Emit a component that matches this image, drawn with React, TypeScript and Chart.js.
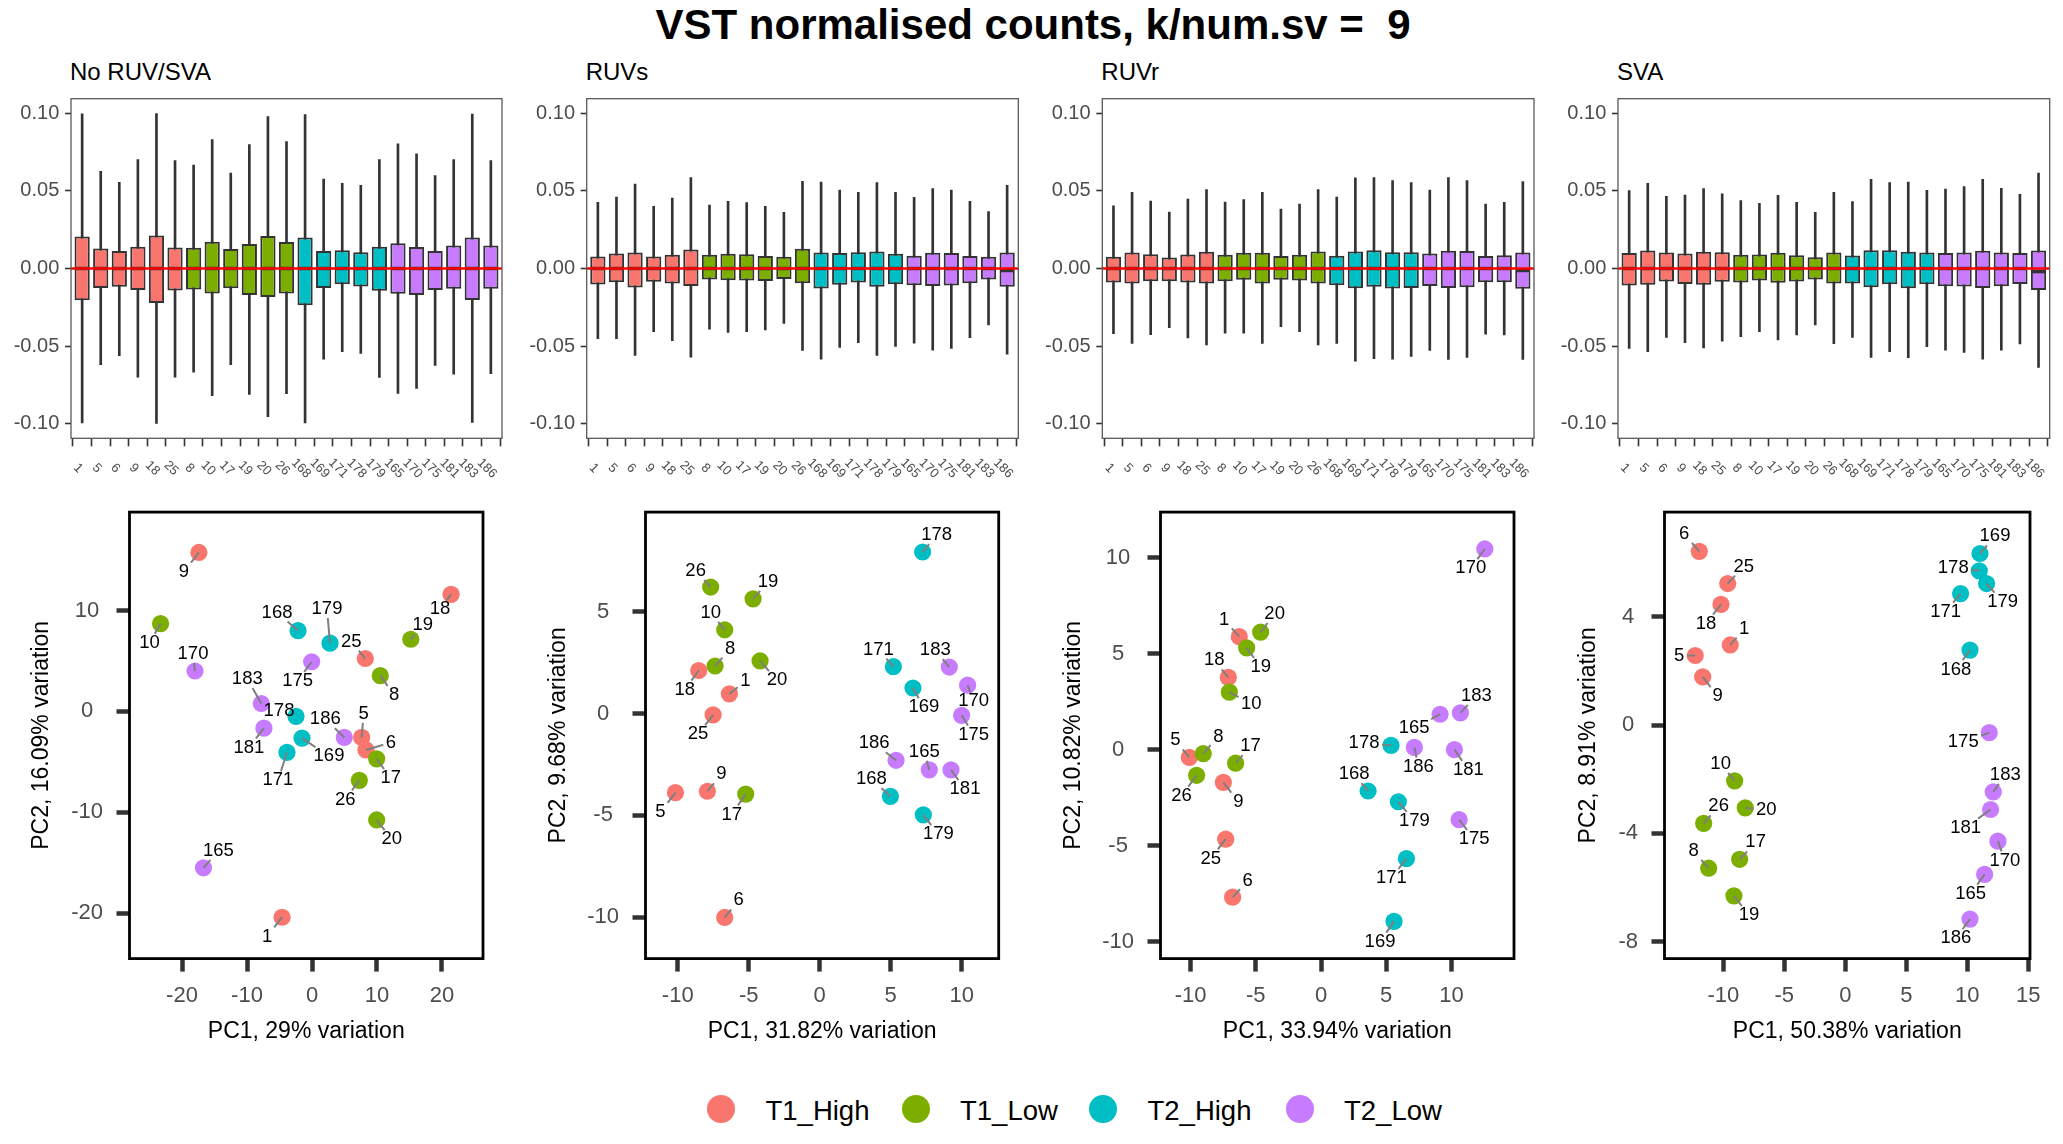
import React, { useEffect, useRef } from "react";
import { Chart, registerables } from "chart.js";

Chart.register(...registerables);

const FONT = "'Liberation Sans', Arial, Helvetica, sans-serif";
Chart.defaults.font.family = FONT;

// ---------------- data ----------------
const mainTitle = "VST normalised counts, k/num.sv =  9";
const methodTitles = ["No RUV/SVA", "RUVs", "RUVr", "SVA"];

const samples = ["1", "5", "6", "9", "18", "25", "8", "10", "17", "19", "20", "26", "168", "169", "171", "178", "179", "165", "170", "175", "181", "183", "186"];
const sampleGroup = [0, 0, 0, 0, 0, 0, 1, 1, 1, 1, 1, 1, 2, 2, 2, 2, 2, 3, 3, 3, 3, 3, 3];
const groupNames = ["T1_High", "T1_Low", "T2_High", "T2_Low"];
const groupColors = ["#F8766D", "#7CAE00", "#00BFC4", "#C77CFF"];

// Boxplots (RLE-style): whisker high, upper hinge, lower hinge, whisker low, median
const noneHi = [0.0996, 0.0626, 0.0555, 0.0701, 0.0998, 0.0695, 0.0665, 0.083, 0.0615, 0.0798, 0.0978, 0.0817, 0.0991, 0.0576, 0.0548, 0.0535, 0.0701, 0.0802, 0.0738, 0.0598, 0.0701, 0.0994, 0.0695];
const noneQ3 = [0.0206, 0.0129, 0.0112, 0.014, 0.0213, 0.0135, 0.0133, 0.0172, 0.0125, 0.0157, 0.0209, 0.017, 0.02, 0.0112, 0.0118, 0.0105, 0.014, 0.0163, 0.0138, 0.0112, 0.0148, 0.02, 0.0148];
const noneQ1 = [-0.0204, -0.0125, -0.0118, -0.0138, -0.0222, -0.0142, -0.0135, -0.0161, -0.0127, -0.017, -0.0183, -0.0161, -0.0237, -0.0125, -0.0101, -0.0116, -0.0144, -0.0163, -0.017, -0.0138, -0.0131, -0.0202, -0.0131];
const noneLo = [-0.0994, -0.0619, -0.0561, -0.0699, -0.0998, -0.0699, -0.0667, -0.0819, -0.0619, -0.0811, -0.0953, -0.0806, -0.0994, -0.0583, -0.0535, -0.0546, -0.0701, -0.0804, -0.0772, -0.0624, -0.068, -0.0991, -0.0677];
const noneMed = [0, 0, 0, 0, 0, 0, 0, 0, 0, 0, 0, 0, 0, 0, 0, 0, 0, 0, 0, 0, 0, 0, 0];

const ruvsHi = [0.0426, 0.046, 0.0544, 0.04, 0.0454, 0.0585, 0.0409, 0.0432, 0.0424, 0.04, 0.0361, 0.0561, 0.0557, 0.0505, 0.049, 0.0553, 0.049, 0.0458, 0.0514, 0.0505, 0.0432, 0.0366, 0.0535];
const ruvsQ3 = [0.0077, 0.0097, 0.0103, 0.0077, 0.0088, 0.0123, 0.0088, 0.0095, 0.0092, 0.008, 0.0075, 0.0127, 0.0103, 0.0099, 0.0105, 0.011, 0.0095, 0.0082, 0.0101, 0.0099, 0.008, 0.0075, 0.0103];
const ruvsQ1 = [-0.0103, -0.0088, -0.0123, -0.0086, -0.0097, -0.0112, -0.0071, -0.0075, -0.0077, -0.008, -0.0067, -0.0095, -0.0129, -0.0105, -0.009, -0.0118, -0.0101, -0.0108, -0.0112, -0.011, -0.0095, -0.0071, -0.0118];
const ruvsLo = [-0.0452, -0.0452, -0.0559, -0.0406, -0.0465, -0.057, -0.0391, -0.0411, -0.0406, -0.0396, -0.0353, -0.0527, -0.0583, -0.0508, -0.0477, -0.0559, -0.0501, -0.048, -0.0525, -0.0514, -0.0445, -0.0363, -0.0551];
const ruvsMed = [0, 0, 0, 0, 0, 0, 0, 0, 0, 0, 0, 0, 0, 0, 0, 0, 0, 0, 0, 0, 0, 0, -0.0013];

const ruvrHi = [0.0404, 0.049, 0.0434, 0.0363, 0.0447, 0.0508, 0.0428, 0.0443, 0.049, 0.0383, 0.0415, 0.0508, 0.046, 0.0583, 0.0585, 0.0566, 0.0553, 0.0505, 0.0585, 0.0566, 0.0415, 0.0426, 0.0559];
const ruvrQ3 = [0.0075, 0.0103, 0.0092, 0.0071, 0.009, 0.0108, 0.0088, 0.0101, 0.0101, 0.008, 0.0088, 0.011, 0.0082, 0.011, 0.0118, 0.0105, 0.0105, 0.0097, 0.0114, 0.0112, 0.008, 0.0086, 0.0103];
const ruvrQ1 = [-0.009, -0.0097, -0.0082, -0.0082, -0.009, -0.0097, -0.0082, -0.0073, -0.0097, -0.0073, -0.0077, -0.0097, -0.0108, -0.0127, -0.0118, -0.0129, -0.0125, -0.0112, -0.0125, -0.012, -0.0088, -0.0088, -0.0131];
const ruvrLo = [-0.0419, -0.0482, -0.0426, -0.0381, -0.0447, -0.0492, -0.0417, -0.0417, -0.0482, -0.0374, -0.0406, -0.0492, -0.0482, -0.0596, -0.0581, -0.0583, -0.0566, -0.0527, -0.0585, -0.0572, -0.0422, -0.0428, -0.0585];
const ruvrMed = [0, 0, 0, 0, 0, 0, 0, 0, 0, 0, 0, 0, 0, 0, 0, 0, 0, 0, 0, 0, 0, 0, -0.0013];

const svaHi = [0.0501, 0.0548, 0.0465, 0.0473, 0.0514, 0.048, 0.0437, 0.0419, 0.0471, 0.0426, 0.0361, 0.049, 0.043, 0.0574, 0.0553, 0.0557, 0.0503, 0.0512, 0.0527, 0.0574, 0.0516, 0.0477, 0.0615];
const svaQ3 = [0.0099, 0.0116, 0.0103, 0.0097, 0.0108, 0.0105, 0.0088, 0.009, 0.0101, 0.0086, 0.0073, 0.0103, 0.0084, 0.0118, 0.0118, 0.0108, 0.0103, 0.0099, 0.0103, 0.0114, 0.0103, 0.0099, 0.0116];
const svaQ1 = [-0.011, -0.0105, -0.0084, -0.0099, -0.0105, -0.0086, -0.009, -0.0077, -0.0092, -0.0084, -0.0071, -0.0097, -0.0097, -0.012, -0.0101, -0.0127, -0.0101, -0.0114, -0.0116, -0.0125, -0.0114, -0.0099, -0.0138];
const svaLo = [-0.0514, -0.0535, -0.0443, -0.0477, -0.0512, -0.0467, -0.0439, -0.0406, -0.046, -0.0428, -0.0363, -0.0484, -0.0443, -0.0572, -0.0535, -0.0574, -0.0503, -0.0525, -0.054, -0.0583, -0.0525, -0.0486, -0.0637];
const svaMed = [0, 0, 0, 0, 0, 0, 0, 0, 0, 0, 0, 0, 0, 0, 0, 0, 0, 0, 0, 0, 0, 0, -0.002];

const boxYTicks = [-0.1, -0.05, 0, 0.05, 0.1];

// PCA
const nonePC1 = [-4.6, 7.64, 8.3, -17.4, 21.4, 8.2, 10.5, -23.3, 9.95, 15.2, 9.95, 7.28, -2.15, -1.54, -3.85, -2.46, 2.77, -16.7, -18.0, -0.05, -7.4, -7.8, 4.97];
const nonePC2 = [-20.4, -2.58, -3.82, 15.75, 11.6, 5.24, 3.54, 8.7, -4.7, 7.15, -10.76, -6.83, 8.0, -2.65, -4.07, -0.5, 6.76, -15.5, 4.0, 4.92, -1.66, 0.78, -2.58];
const ruvsPC1 = [-6.36, -10.16, -6.69, -7.91, -8.52, -7.51, -7.37, -6.69, -5.21, -4.69, -4.2, -7.68, 4.98, 6.57, 5.19, 7.25, 7.3, 7.72, 10.42, 10.0, 9.25, 9.13, 5.38];
const ruvsPC2 = [0.96, -3.89, -10.02, -3.82, 2.11, -0.07, 2.33, 4.11, -3.96, 5.63, 2.58, 6.21, -4.07, 1.25, 2.3, 7.93, -4.98, -2.77, 1.39, -0.09, -2.77, 2.28, -2.3];
const ruvrPC1 = [-6.27, -10.1, -6.78, -7.49, -7.11, -7.31, -9.03, -7.03, -6.55, -5.7, -4.63, -9.54, 3.61, 5.6, 6.55, 5.37, 5.93, 9.13, 12.56, 10.59, 10.23, 10.69, 7.16];
const ruvrPC2 = [5.9, -0.39, -7.67, -1.69, 3.78, -4.65, -0.19, 3.01, -0.69, 5.32, 6.14, -1.32, -2.14, -8.93, -5.66, 0.24, -2.7, 1.86, 10.47, -3.63, 0.02, 1.93, 0.13];
const svaPC1 = [-9.43, -12.3, -11.97, -11.69, -10.19, -9.64, -11.2, -9.07, -8.66, -9.13, -8.2, -11.61, 10.22, 11.04, 9.45, 10.98, 11.58, 11.42, 12.51, 11.8, 11.91, 12.13, 10.22];
const svaPC2 = [2.96, 2.57, 6.42, 1.78, 4.46, 5.23, -5.29, -2.06, -4.96, -6.31, -3.06, -3.63, 2.77, 6.34, 4.86, 5.7, 5.23, -5.52, -4.29, -0.28, -3.12, -2.47, -7.17];

const pc1Var = ["29%", "31.82%", "33.94%", "50.38%"];
const pc2Var = ["16.09%", "9.68%", "10.82%", "8.91%"];

const noneXTicks = [-20, -10, 0, 10, 20];
const noneYTicks = [-20, -10, 0, 10];
const ruvsXTicks = [-10, -5, 0, 5, 10];
const ruvsYTicks = [-10, -5, 0, 5];
const ruvrXTicks = [-10, -5, 0, 5, 10];
const ruvrYTicks = [-10, -5, 0, 5, 10];
const svaXTicks = [-10, -5, 0, 5, 10, 15];
const svaYTicks = [-8, -4, 0, 4];

// ---------------- layout (positions / styles) ----------------
const boxPanels = [
  { hi: noneHi, q3: noneQ3, q1: noneQ1, lo: noneLo, med: noneMed },
  { hi: ruvsHi, q3: ruvsQ3, q1: ruvsQ1, lo: ruvsLo, med: ruvsMed },
  { hi: ruvrHi, q3: ruvrQ3, q1: ruvrQ1, lo: ruvrLo, med: ruvrMed },
  { hi: svaHi, q3: svaQ3, q1: svaQ1, lo: svaLo, med: svaMed },
];
const boxAreas = [
  { l: 71, r: 502 },
  { l: 586.7, r: 1018.3 },
  { l: 1102.3, r: 1534 },
  { l: 1618, r: 2049.7 },
];
const BOX_TOP = 98.7;
const BOX_BOTTOM = 438.3;
const BOX_LIM = 0.1093;

const pcaPanels = [
  { pc1: nonePC1, pc2: nonePC2, xt: noneXTicks, yt: noneYTicks },
  { pc1: ruvsPC1, pc2: ruvsPC2, xt: ruvsXTicks, yt: ruvsYTicks },
  { pc1: ruvrPC1, pc2: ruvrPC2, xt: ruvrXTicks, yt: ruvrYTicks },
  { pc1: svaPC1, pc2: svaPC2, xt: svaXTicks, yt: svaYTicks },
];
const pcaAreas = [
  { l: 129.5, r: 483, xmin: -28.08, xmax: 26.31, ymin: -24.5, ymax: 19.75, ytitle: 42 },
  { l: 645.5, r: 998.7, xmin: -12.27, xmax: 12.61, ymin: -12.04, ymax: 9.89, ytitle: 558.5 },
  { l: 1160.5, r: 1514, xmin: -12.31, xmax: 14.8, ymin: -10.87, ymax: 12.39, ytitle: 1073.5 },
  { l: 1664.5, r: 2030, xmin: -14.82, xmax: 15.14, ymin: -8.63, ymax: 7.87, ytitle: 1588.5 },
];
const PCA_TOP = 512.1;
const PCA_BOTTOM = 958.6;
const XTITLE_MID = 1031.3;

// label nudges (pixels, label centre relative to point)
const labelNudges = [
  [[-15, 19.3], [2, -23.6], [25, -7.5], [-15, 19.3], [-11, 15], [-14, -17.1], [14, 19.3], [-11, 19.3], [14, 19.3], [12, -13.9], [15, 19.3], [-14, 19.3], [-21, -18.2], [27, 18.2], [-9, 27.9], [-17, -5.4], [-3, -34.3], [15, -17.1], [-2, -17.1], [-14, 19.3], [-15, 19.3], [-14, -24.6], [-19, -18.2]],
  [[16, -12.9], [-15, 19.3], [14, -17.1], [14, -17.1], [-14, 19.3], [-15, 19.3], [15, -17.1], [-14, -17.1], [-14, 20.4], [15, -17.1], [17, 19.3], [-15, -16.1], [-19, -17.1], [11, 19.3], [-15, -17.1], [14, -17.1], [15, 19.3], [-5, -18.2], [6, 16.1], [12, 19.3], [14, 19.3], [-14, -17.1], [-22, -17.1]],
  [[-15, -17.1], [-14, -17.1], [15, -16.1], [15, 19.3], [-14, -17.1], [-15, 19.3], [15, -17.1], [22, 11.8], [15, -17.1], [14, 19.3], [14, -18.2], [-15, 20.4], [-14, -17.1], [-14, 20.4], [-15, 19.3], [-27, -2.1], [16, 19.3], [-26, 13.9], [-14, 19.3], [15, 19.3], [14, 20.4], [16, -17.1], [4, 19.3]],
  [[14, -16.1], [-16, 0], [-15, -17.1], [15, 19.3], [-15, 19.3], [16, -17.1], [-15, -17.1], [-14, -17.1], [16, -17.1], [15, 19.3], [21, 2.1], [15, -17.1], [-14, 19.3], [15, -17.1], [-15, 18.2], [-26, -3.2], [16, 18.2], [-14, 19.3], [7, 19.3], [-26, 9.6], [-25, 18.2], [12, -17.1], [-14, 19.3]],
];

const legendCircleX = [721, 915.5, 1103, 1299.5];
const LEGEND_Y = 1109.2;

const GREY_TEXT = "#4D4D4D";
const TICK_COLOR = "#333333";

// ---------------- components ----------------
function BoxPanel({ idx }: { idx: number }) {
  const ref = useRef<HTMLCanvasElement | null>(null);
  const a = boxAreas[idx];
  const yW = 60;
  const xH = 10;
  const cLeft = Math.floor(a.l - yW - 6);
  const cTop = 70;
  const cW = Math.ceil(a.r + 12) - cLeft;
  const cH = 422;
  const padL = a.l - yW - cLeft;
  const padT = BOX_TOP - cTop;
  const padR = cLeft + cW - a.r;
  const padB = cTop + cH - BOX_BOTTOM - xH;

  useEffect(() => {
    const d = boxPanels[idx];
    const overlay = {
      id: "boxOverlay" + idx,
      afterDatasetsDraw(chart: any) {
        const { ctx, chartArea: ca, scales } = chart;
        const x = scales.x;
        const y = scales.y;
        const meta = chart.getDatasetMeta(0);
        ctx.save();
        ctx.strokeStyle = TICK_COLOR;
        ctx.lineWidth = 3.4;
        meta.data.forEach((bar: any, i: number) => {
          const py = y.getPixelForValue(d.med[i]);
          const w = bar.width;
          ctx.beginPath();
          ctx.moveTo(bar.x - w / 2 + 1, py);
          ctx.lineTo(bar.x + w / 2 - 1, py);
          ctx.stroke();
        });
        const y0 = y.getPixelForValue(0);
        ctx.strokeStyle = "#FF0000";
        ctx.lineWidth = 2.7;
        ctx.beginPath();
        ctx.moveTo(ca.left, y0);
        ctx.lineTo(ca.right, y0);
        ctx.stroke();
        ctx.strokeStyle = "#595959";
        ctx.lineWidth = 1.3;
        ctx.strokeRect(ca.left, ca.top, ca.right - ca.left, ca.bottom - ca.top);
        ctx.fillStyle = GREY_TEXT;
        ctx.font = `13px ${FONT}`;
        ctx.textAlign = "center";
        ctx.textBaseline = "middle";
        samples.forEach((s, i) => {
          const px = x.getPixelForValue(i + 1);
          ctx.save();
          ctx.translate(px - 4, ca.bottom + 30);
          ctx.rotate(Math.PI / 4);
          ctx.fillText(s, 0, 0);
          ctx.restore();
        });
        ctx.restore();
      },
    };
    const chart = new Chart(ref.current as HTMLCanvasElement, {
      type: "bar",
      data: {
        datasets: [
          {
            data: samples.map((_, i) => ({ x: i + 1, y: [d.q1[i], d.q3[i]] })) as any,
            backgroundColor: samples.map((_, i) => groupColors[sampleGroup[i]]),
            borderColor: TICK_COLOR,
            borderWidth: 2,
            borderSkipped: false,
            grouped: false,
            barPercentage: 0.82,
            categoryPercentage: 1,
          } as any,
          {
            data: samples.map((_, i) => ({ x: i + 1, y: [d.lo[i], d.hi[i]] })) as any,
            backgroundColor: TICK_COLOR,
            borderWidth: 0,
            barThickness: 2,
            grouped: false,
          } as any,
        ],
      },
      options: {
        animation: false,
        responsive: false,
        devicePixelRatio: 1,
        events: [],
        layout: { padding: { left: padL, top: padT, right: padR, bottom: padB } },
        plugins: { legend: { display: false }, tooltip: { enabled: false } },
        scales: {
          x: {
            type: "linear",
            min: 0.4,
            max: 23.6,
            offset: false,
            afterBuildTicks: (ax: any) => {
              ax.ticks = samples.map((_, i) => ({ value: i + 1 }));
            },
            afterFit: (ax: any) => {
              ax.height = xH;
            },
            grid: { drawOnChartArea: false, drawTicks: true, tickLength: 8, tickWidth: 1.6, tickColor: TICK_COLOR },
            border: { display: false },
            ticks: { display: false, autoSkip: false },
          } as any,
          y: {
            type: "linear",
            min: -BOX_LIM,
            max: BOX_LIM,
            afterBuildTicks: (ax: any) => {
              ax.ticks = boxYTicks.map((v) => ({ value: v }));
            },
            afterFit: (ax: any) => {
              ax.width = yW;
            },
            grid: { drawOnChartArea: false, drawTicks: true, tickLength: 6, tickWidth: 1.6, tickColor: TICK_COLOR },
            border: { display: false },
            ticks: {
              autoSkip: false,
              font: { size: 20, family: FONT },
              color: GREY_TEXT,
              padding: 5.7,
              callback: (v: any) => Number(v).toFixed(2),
            },
          } as any,
        },
      },
      plugins: [overlay],
    });
    return () => chart.destroy();
  }, []);

  return (
    <canvas
      ref={ref}
      width={cW}
      height={cH}
      style={{ position: "absolute", left: cLeft, top: cTop, width: cW, height: cH }}
    />
  );
}

function PcaPanel({ idx }: { idx: number }) {
  const ref = useRef<HTMLCanvasElement | null>(null);
  const a = pcaAreas[idx];
  const titleSize = 23;
  const tLH = titleSize * 1.2;
  const scaleLeft = a.ytitle - tLH / 2;
  const yW = a.l - scaleLeft;
  const cLeft = Math.floor(scaleLeft - 4);
  const cTop = 480;
  const scaleBottom = XTITLE_MID + tLH / 2;
  const xH = scaleBottom - PCA_BOTTOM;
  const cH = Math.ceil(scaleBottom + 6) - cTop;
  const cW = Math.ceil(a.r + 24) - cLeft;
  const padL = scaleLeft - cLeft;
  const padT = PCA_TOP - cTop;
  const padR = cLeft + cW - a.r;
  const padB = cTop + cH - scaleBottom;

  useEffect(() => {
    const d = pcaPanels[idx];
    const nudges = labelNudges[idx];
    const overlay = {
      id: "pcaOverlay" + idx,
      afterDatasetsDraw(chart: any) {
        const { ctx, chartArea: ca, scales } = chart;
        const x = scales.x;
        const y = scales.y;
        ctx.save();
        const fs = 18.5;
        ctx.font = `${fs}px ${FONT}`;
        const hh = (0.716 * fs) / 2 + 2.5;
        ctx.strokeStyle = "#7F7F7F";
        ctx.lineWidth = 2;
        ctx.lineCap = "butt";
        d.pc1.forEach((v: number, i: number) => {
          const px = x.getPixelForValue(v);
          const py = y.getPixelForValue(d.pc2[i]);
          const [dx, dy] = nudges[i];
          const hw = ctx.measureText(samples[i]).width / 2 + 2.5;
          const tx = dx !== 0 ? hw / Math.abs(dx) : Infinity;
          const ty = dy !== 0 ? hh / Math.abs(dy) : Infinity;
          const t = Math.min(tx, ty);
          if (t < 1) {
            const len = Math.hypot(dx, dy) * (1 - t);
            if (len > 4) {
              ctx.beginPath();
              ctx.moveTo(px, py);
              ctx.lineTo(px + dx * (1 - t), py + dy * (1 - t));
              ctx.stroke();
            }
          }
        });
        ctx.fillStyle = "#000000";
        ctx.textAlign = "center";
        ctx.textBaseline = "middle";
        d.pc1.forEach((v: number, i: number) => {
          const px = x.getPixelForValue(v);
          const py = y.getPixelForValue(d.pc2[i]);
          const [dx, dy] = nudges[i];
          ctx.fillText(samples[i], px + dx, py + dy);
        });
        ctx.strokeStyle = "#000000";
        ctx.lineWidth = 2.8;
        ctx.strokeRect(ca.left, ca.top, ca.right - ca.left, ca.bottom - ca.top);
        ctx.restore();
      },
    };
    const chart = new Chart(ref.current as HTMLCanvasElement, {
      type: "scatter",
      data: {
        datasets: [
          {
            data: d.pc1.map((v: number, i: number) => ({ x: v, y: d.pc2[i] })),
            pointBackgroundColor: samples.map((_, i) => groupColors[sampleGroup[i]]),
            pointBorderWidth: 0,
            pointRadius: 8.6,
            pointHoverRadius: 8.6,
          } as any,
        ],
      },
      options: {
        animation: false,
        responsive: false,
        devicePixelRatio: 1,
        events: [],
        layout: { padding: { left: padL, top: padT, right: padR, bottom: padB } },
        plugins: { legend: { display: false }, tooltip: { enabled: false } },
        scales: {
          x: {
            type: "linear",
            min: a.xmin,
            max: a.xmax,
            afterBuildTicks: (ax: any) => {
              ax.ticks = d.xt.map((v: number) => ({ value: v }));
            },
            afterFit: (ax: any) => {
              ax.height = xH;
            },
            grid: { drawOnChartArea: false, drawTicks: true, tickLength: 13, tickWidth: 4.5, tickColor: TICK_COLOR },
            border: { display: false },
            ticks: {
              autoSkip: false,
              maxRotation: 0,
              minRotation: 0,
              font: { size: 22, family: FONT },
              color: GREY_TEXT,
              padding: 11.2,
              callback: (v: any) => String(v),
            },
            title: {
              display: true,
              text: `PC1, ${pc1Var[idx]} variation`,
              font: { size: titleSize, family: FONT },
              color: "#000000",
              padding: 0,
            },
          } as any,
          y: {
            type: "linear",
            min: a.ymin,
            max: a.ymax,
            afterBuildTicks: (ax: any) => {
              ax.ticks = d.yt.map((v: number) => ({ value: v }));
            },
            afterFit: (ax: any) => {
              ax.width = yW;
            },
            grid: { drawOnChartArea: false, drawTicks: true, tickLength: 13, tickWidth: 4.5, tickColor: TICK_COLOR },
            border: { display: false },
            ticks: {
              autoSkip: false,
              crossAlign: "center",
              font: { size: 22, family: FONT },
              color: GREY_TEXT,
              padding: 13.5,
              callback: (v: any) => String(v),
            },
            title: {
              display: true,
              text: `PC2, ${pc2Var[idx]} variation`,
              font: { size: titleSize, family: FONT },
              color: "#000000",
              padding: 0,
            },
          } as any,
        },
      },
      plugins: [overlay],
    });
    return () => chart.destroy();
  }, []);

  return (
    <canvas
      ref={ref}
      width={cW}
      height={cH}
      style={{ position: "absolute", left: cLeft, top: cTop, width: cW, height: cH }}
    />
  );
}

export default function App() {
  return (
    <div
      style={{
        position: "absolute",
        left: 0,
        top: 0,
        width: 2063,
        height: 1144,
        background: "#ffffff",
        overflow: "hidden",
        fontFamily: FONT,
        color: "#000000",
      }}
    >
      <div
        style={{
          position: "absolute",
          left: 1.5,
          top: 3.5,
          width: 2063,
          textAlign: "center",
          fontSize: 42,
          lineHeight: "42px",
          fontWeight: "bold",
          whiteSpace: "pre",
        }}
      >
        {mainTitle}
      </div>
      {methodTitles.map((t, i) => (
        <div
          key={"mt" + i}
          style={{
            position: "absolute",
            left: boxAreas[i].l - 1,
            top: 60.2,
            fontSize: 24,
            lineHeight: "24px",
            whiteSpace: "pre",
          }}
        >
          {t}
        </div>
      ))}
      {[0, 1, 2, 3].map((i) => (
        <BoxPanel key={"b" + i} idx={i} />
      ))}
      {[0, 1, 2, 3].map((i) => (
        <PcaPanel key={"p" + i} idx={i} />
      ))}
      {groupNames.map((g, i) => (
        <React.Fragment key={"lg" + i}>
          <div
            style={{
              position: "absolute",
              left: legendCircleX[i] - 14,
              top: LEGEND_Y - 14,
              width: 28,
              height: 28,
              borderRadius: "50%",
              background: groupColors[i],
            }}
          />
          <div
            style={{
              position: "absolute",
              left: legendCircleX[i] + 44.5,
              top: 1097.4,
              fontSize: 27.5,
              lineHeight: "27.5px",
              whiteSpace: "pre",
            }}
          >
            {g}
          </div>
        </React.Fragment>
      ))}
    </div>
  );
}
